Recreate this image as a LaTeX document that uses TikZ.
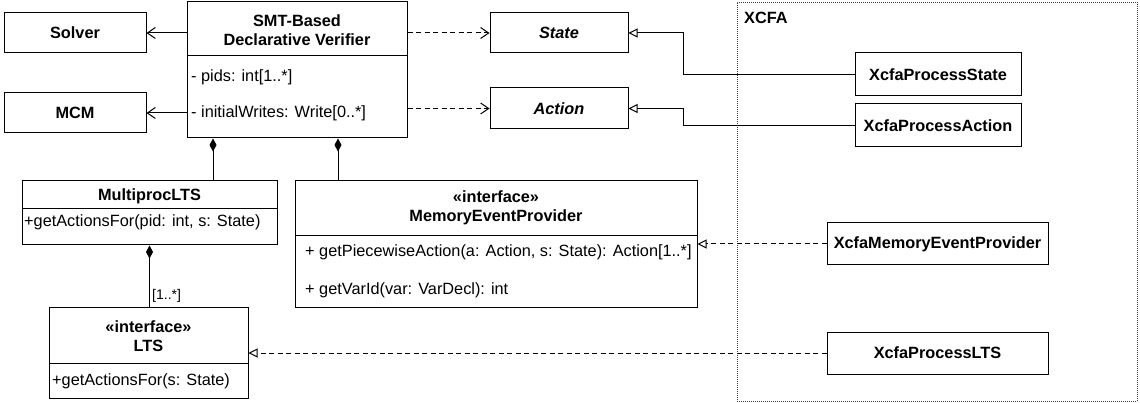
\documentclass[tikz,border=0pt]{standalone}
\usepackage{fontspec}
\setmainfont{Liberation Sans}
\usetikzlibrary{arrows.meta,fit}

\tikzset{
  cls/.style={draw, line width=1pt, inner sep=0pt, fill=white},
  grp/.style={draw=black!75, line width=0.9pt, dash pattern=on 1pt off 1pt, inner sep=0pt},
  ttl/.style={font=\fontsize{16.3}{19}\selectfont\bfseries, inner sep=0pt, align=center},
  abs/.style={font=\fontsize{16.3}{19}\selectfont\bfseries\itshape, inner sep=0pt},
  mem/.style={font=\fontsize{16.3}{19}\selectfont, inner sep=0pt, anchor=west},
  mult/.style={font=\fontsize{14}{16}\selectfont, inner sep=0pt, anchor=west},
  sep/.style={line width=1pt},
  assoc/.style={line width=1pt, -{Straight Barb[length=8pt,width=11pt,line width=1pt]}},
  dep/.style={assoc, dash pattern=on 5pt off 3.5pt},
  gen/.style={line width=1pt, -{Triangle[open,length=9pt,width=9pt,line width=1pt]}},
  real/.style={gen, dash pattern=on 5pt off 3.5pt},
  comp/.style={line width=1pt, {Diamond[length=13pt,width=7pt]}-},
}

\begin{document}
\begin{tikzpicture}[x=1pt,y=-1pt]
\useasboundingbox (0,0) rectangle (1140,403);

% package frame
\node[grp, fit={(737,2) (1137,401)}] (xcfa) {};
\node[ttl, anchor=west] (xcfalbl) at (744,18) {XCFA};

% simple classes
\node[cls, fit={(4,13) (146,53)}] (solver) {};
\node[cls, fit={(4,93) (146,133)}] (mcm) {};
\node[cls, fit={(490,13) (628,53)}] (state) {};
\node[cls, fit={(490,88) (628,129)}] (action) {};
\node[cls, fit={(855,53) (1021,96)}] (xps) {};
\node[cls, fit={(855,104) (1021,147)}] (xpa) {};
\node[cls, fit={(827,223) (1048,265)}] (xmep) {};
\node[cls, fit={(827,332) (1048,374)}] (xplts) {};
\node[ttl] (solvert) at (solver) {Solver};
\node[ttl] (mcmt) at (mcm) {MCM};
\node[abs] (statet) at (state) {State};
\node[abs] (actiont) at (action) {Action};
\node[ttl] (xpst) at (xps) {XcfaProcessState};
\node[ttl] (xpat) at (xpa) {XcfaProcessAction};
\node[ttl] (xmept) at (xmep) {XcfaMemoryEventProvider};
\node[ttl] (xpltst) at (xplts) {XcfaProcessLTS};

% verifier
\node[cls, fit={(187,2) (407,138)}] (verifier) {};
\draw[sep] (187,56) -- (407,56);
\node[ttl] (vt) at (297,30.5) {SMT-Based\\Declarative Verifier};
\node[mem] (va1) at (191,77) {- pids: int[1..*]};
\node[mem] (va2) at (191,113) {- initialWrites: Write[0..*]};

% multiprocess LTS
\node[cls, fit={(22,181) (277,245)}] (multiproc) {};
\draw[sep] (22,209) -- (277,209);
\node[ttl] (mt) at (149.5,196) {MultiprocLTS};
\node[mem] (mm1) at (24,222) {+getActionsFor(pid: int, s: State)};

% memory event provider
\node[cls, fit={(295,181) (697,307)}] (mep) {};
\draw[sep] (295,236) -- (697,236);
\node[ttl] (mept) at (496,208) {«interface»\\MemoryEventProvider};
\node[mem] (mepm1) at (305,252) {+ getPiecewiseAction(a: Action, s: State): Action[1..*]};
\node[mem] (mepm2) at (305,290) {+ getVarId(var: VarDecl): int};

% LTS interface
\node[cls, fit={(49,307) (248,398)}] (lts) {};
\draw[sep] (49,363) -- (248,363);
\node[ttl] (ltst) at (148.5,336.5) {«interface»\\LTS};
\node[mem] (ltsm1) at (52,381) {+getActionsFor(s: State)};

% bend and attachment points
\coordinate (b1) at (683,0);
\coordinate (c1) at (213,0);
\coordinate (c2) at (338,0);

% associations
\draw[assoc] (verifier.west |- solver.east) -- (solver.east);
\draw[assoc] (verifier.west |- mcm.east) -- (mcm.east);
\draw[dep] (verifier.east |- state.west) -- (state.west);
\draw[dep] (verifier.east |- action.west) -- (action.west);

% generalisations
\draw[gen] (xps.west) -- (b1 |- xps.west) -- (b1 |- state.east) -- (state.east);
\draw[gen] (xpa.west) -- (b1 |- xpa.west) -- (b1 |- action.east) -- (action.east);

% realisations
\draw[real] (xmep.west) -- (mep.east |- xmep.west);
\draw[real] (xplts.west) -- (lts.east |- xplts.west);

% compositions
\draw[comp] (c1 |- verifier.south) -- (c1 |- multiproc.north);
\draw[comp] (c2 |- verifier.south) -- (c2 |- mep.north);
\draw[comp] (multiproc.south) -- (multiproc.south |- lts.north);
\node[mult] (m1) at (152,296) {[1..*]};
\end{tikzpicture}
\end{document}
